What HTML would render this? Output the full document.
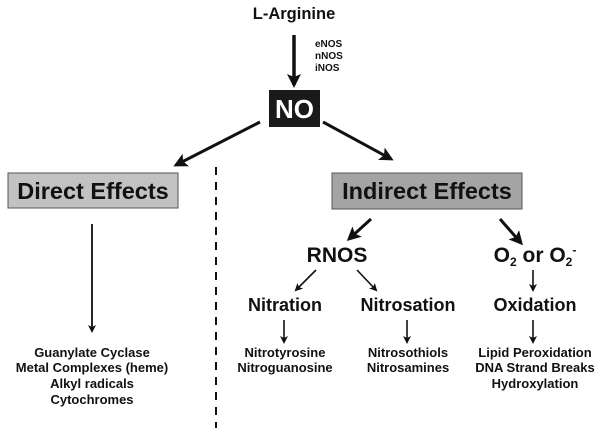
<!DOCTYPE html>
<html><head><style>
body{margin:0;background:#fff;width:600px;height:431px;overflow:hidden}
svg text{font-family:"Liberation Sans",Arial,sans-serif;font-weight:bold;fill:#111;text-anchor:middle}
</style></head><body>
<svg width="600" height="431" viewBox="0 0 600 431" xmlns="http://www.w3.org/2000/svg">
<defs>
<marker id="a" markerWidth="8" markerHeight="8" refX="6" refY="4" orient="auto" markerUnits="userSpaceOnUse"><path d="M0,0 L8,4 L0,8 L2,4 Z" fill="#111"/></marker>
<marker id="b" markerWidth="14" markerHeight="14" refX="11" refY="7" orient="auto" markerUnits="userSpaceOnUse"><path d="M0,0 L14,7 L0,14 L3,7 Z" fill="#111"/></marker>
</defs>
<text x="294" y="19" font-size="16.5">L-Arginine</text>
<line x1="294" y1="35" x2="294" y2="85" stroke="#111" stroke-width="3.5" marker-end="url(#b)"/>
<text x="315" y="47" font-size="10" style="text-anchor:start">eNOS</text>
<text x="315" y="59" font-size="10" style="text-anchor:start">nNOS</text>
<text x="315" y="71" font-size="10" style="text-anchor:start">iNOS</text>
<rect x="269" y="90" width="51" height="37" fill="#1a1a1a"/>
<text x="294.5" y="118" font-size="26" style="fill:#fff">NO</text>
<line x1="260" y1="122" x2="176" y2="165" stroke="#111" stroke-width="3" marker-end="url(#b)"/>
<line x1="323" y1="122" x2="391" y2="159" stroke="#111" stroke-width="3" marker-end="url(#b)"/>
<rect x="8" y="173" width="170" height="35" fill="#c2c2c2" stroke="#555" stroke-width="1"/>
<text x="93" y="199" font-size="23.5">Direct Effects</text>
<rect x="332" y="173" width="190" height="36" fill="#a4a4a4" stroke="#555" stroke-width="1"/>
<text x="427" y="199" font-size="23.5">Indirect Effects</text>
<line x1="216" y1="167" x2="216" y2="428" stroke="#111" stroke-width="2" stroke-dasharray="8,7"/>
<line x1="92" y1="224" x2="92" y2="331" stroke="#111" stroke-width="1.8" marker-end="url(#a)"/>
<g font-size="13">
<text x="92" y="357">Guanylate Cyclase</text>
<text x="92" y="372">Metal Complexes (heme)</text>
<text x="92" y="388">Alkyl radicals</text>
<text x="92" y="404">Cytochromes</text>
</g>
<line x1="371" y1="219" x2="349" y2="239" stroke="#111" stroke-width="3" marker-end="url(#b)"/>
<line x1="500" y1="219" x2="521" y2="243" stroke="#111" stroke-width="3" marker-end="url(#b)"/>
<text x="337" y="262" font-size="21">RNOS</text>
<text x="535" y="262" font-size="21">O<tspan font-size="12" dy="4">2</tspan><tspan dy="-4"> or O</tspan><tspan font-size="12" dy="4">2</tspan><tspan font-size="12" dy="-12">-</tspan></text>
<line x1="316" y1="270" x2="296" y2="290" stroke="#111" stroke-width="1.6" marker-end="url(#a)"/>
<line x1="357" y1="270" x2="376" y2="290" stroke="#111" stroke-width="1.6" marker-end="url(#a)"/>
<line x1="533" y1="270" x2="533" y2="290" stroke="#111" stroke-width="1.6" marker-end="url(#a)"/>
<g font-size="18">
<text x="285" y="311">Nitration</text>
<text x="408" y="311">Nitrosation</text>
<text x="535" y="311">Oxidation</text>
</g>
<line x1="284" y1="320" x2="284" y2="342" stroke="#111" stroke-width="1.6" marker-end="url(#a)"/>
<line x1="407" y1="320" x2="407" y2="342" stroke="#111" stroke-width="1.6" marker-end="url(#a)"/>
<line x1="533" y1="320" x2="533" y2="342" stroke="#111" stroke-width="1.6" marker-end="url(#a)"/>
<g font-size="13">
<text x="285" y="357">Nitrotyrosine</text>
<text x="285" y="372">Nitroguanosine</text>
<text x="408" y="357">Nitrosothiols</text>
<text x="408" y="372">Nitrosamines</text>
<text x="535" y="357">Lipid Peroxidation</text>
<text x="535" y="372">DNA Strand Breaks</text>
<text x="535" y="388">Hydroxylation</text>
</g>
</svg>
</body></html>
